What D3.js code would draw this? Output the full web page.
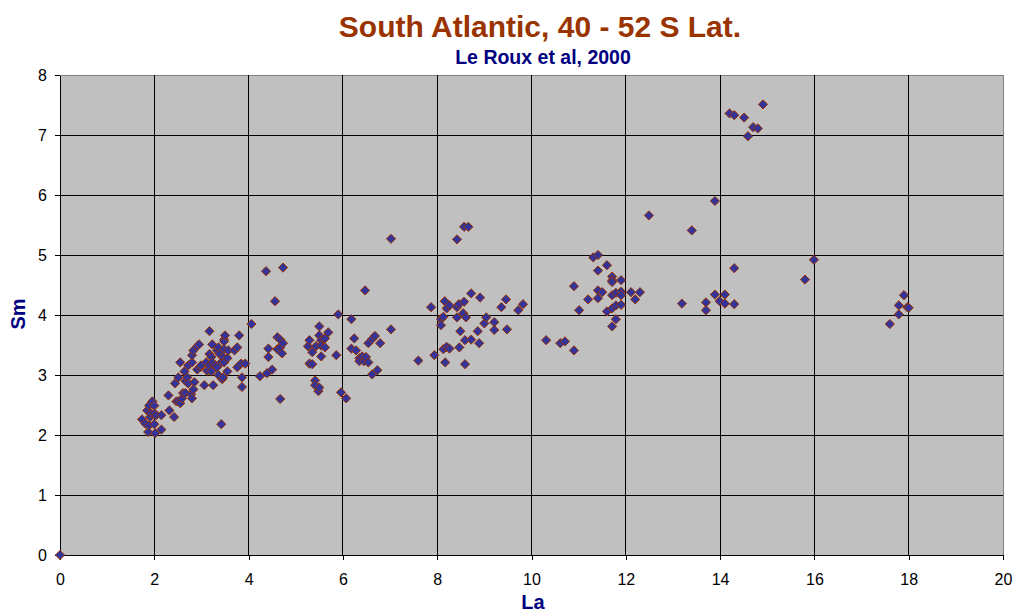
<!DOCTYPE html>
<html>
<head>
<meta charset="utf-8">
<script src="https://cdn.jsdelivr.net/npm/d3@7"></script>
<style>
  body { margin: 0; background: #fff; }
  text { font-family: "Liberation Sans", Arial, sans-serif; }
</style>
</head>
<body>
<script>

// La, Sm samples
var samples = [
    [0, 0],
    [1.74,2.26],[1.81,2.19],[1.85,2.41],[1.87,2.05],[1.89,2.49],[1.89,2.16],[1.91,2.30],[1.93,2.36],
    [1.96,2.56],[2.00,2.49],[2.00,2.36],[2.00,2.18],[2.02,2.03],[2.04,2.33],[2.15,2.09],[2.15,2.33],
    [2.30,2.66],[2.32,2.41],[2.42,2.30],[2.44,2.86],[2.47,2.56],[2.51,2.96],[2.51,2.56],[2.55,2.53],
    [2.55,3.21],[2.59,2.61],[2.61,2.70],[2.64,3.06],[2.66,2.70],[2.66,2.90],[2.70,2.96],[2.72,2.86],
    [2.72,3.16],[2.78,2.68],[2.80,2.61],[2.80,3.21],[2.80,3.33],[2.83,2.76],[2.83,3.41],[2.85,2.88],
    [2.91,3.09],[2.91,3.48],[2.95,3.51],[2.97,3.13],[2.99,3.16],
    [3.06,2.83],[3.10,3.21],[3.12,3.07],[3.17,3.16],[3.17,3.35],[3.17,3.73],[3.21,3.06],[3.21,3.30],
    [3.23,3.21],[3.23,3.51],[3.25,2.83],[3.29,3.16],[3.33,3.13],[3.33,3.41],[3.36,3.46],[3.36,3.00],
    [3.38,3.35],[3.42,3.21],[3.42,2.18],[3.44,2.93],[3.46,2.96],[3.46,3.30],[3.48,3.21],[3.48,3.59],
    [3.48,3.56],[3.48,3.43],[3.50,3.66],[3.55,3.06],[3.55,3.28],[3.57,3.41],[3.70,3.41],[3.76,3.46],
    [3.76,3.13],[3.80,3.66],[3.84,3.19],[3.86,2.96],[3.86,2.80],[3.93,3.19],
    [4.06,3.85],[4.24,2.98],[4.37,4.73],[4.39,3.03],[4.42,3.44],[4.42,3.30],[4.50,3.09],[4.56,4.23],
    [4.61,3.63],[4.61,3.43],[4.67,3.59],[4.67,3.46],[4.67,2.60],[4.71,3.36],[4.73,3.53],[4.73,4.79],
    [5.26,3.48],[5.29,3.58],[5.29,3.19],[5.35,3.38],[5.35,3.18],[5.41,2.91],[5.41,2.83],[5.43,3.48],
    [5.48,2.73],[5.50,3.81],[5.50,3.66],[5.50,2.79],[5.54,3.58],[5.54,3.49],[5.54,3.31],[5.62,3.61],
    [5.62,3.46],[5.69,3.71],[5.86,3.33],[5.90,4.01],[5.96,2.71],[6.07,2.61],[6.18,3.93],[6.18,3.44],
    [6.24,3.61],[6.28,3.41],[6.35,3.28],[6.35,3.23],[6.41,3.31],[6.45,3.23],[6.47,4.41],[6.49,3.30],
    [6.54,3.53],[6.54,3.21],[6.62,3.60],[6.62,3.01],[6.68,3.65],[6.73,3.08],[6.79,3.53],[7.02,3.76],
    [7.02,5.27],
    [7.60,3.24],[7.87,4.13],[7.94,3.33],[8.08,3.93],[8.08,3.83],[8.13,3.97],[8.13,3.43],[8.16,4.23],
    [8.17,3.21],[8.20,4.11],[8.20,3.47],[8.26,4.16],[8.26,3.44],[8.42,5.26],[8.42,4.13],[8.42,3.96],
    [8.46,4.18],[8.47,3.46],[8.49,3.73],[8.55,4.03],[8.57,5.47],[8.57,4.22],[8.59,3.58],[8.59,3.18],
    [8.61,3.96],[8.66,5.47],[8.72,4.36],[8.72,3.59],[8.86,3.73],[8.89,3.53],[8.91,4.29],[9.00,3.86],
    [9.04,3.96],[9.21,3.88],[9.21,3.75],[9.36,4.13],[9.46,4.26],[9.48,3.76],[9.72,4.08],[9.82,4.18],
    [10.31,3.58],[10.61,3.53],[10.71,3.56],[10.90,4.48],[10.90,3.41],[11.01,4.08],[11.20,4.26],
    [11.31,4.96],[11.41,5.00],[11.41,4.74],[11.41,4.41],[11.41,4.28],[11.50,4.38],[11.60,4.83],
    [11.60,4.06],[11.71,4.64],[11.71,4.58],[11.71,4.55],[11.71,4.33],[11.71,4.11],[11.71,3.81],
    [11.79,4.37],[11.79,4.16],[11.79,3.93],[11.90,4.58],[11.90,4.39],[11.90,4.33],[11.90,4.17],
    [12.11,4.38],[12.20,4.26],[12.30,4.38],[12.49,5.66],
    [13.19,4.19],[13.40,5.41],[13.70,4.21],[13.70,4.08],[13.89,5.90],[13.89,4.34],[13.99,4.23],
    [14.10,4.34],[14.10,4.19],[14.20,7.36],[14.30,7.33],[14.30,4.78],[14.30,4.18],[14.51,7.29],
    [14.59,6.98],[14.70,7.13],[14.80,7.11],[14.91,7.51],[15.80,4.59],[15.99,4.92],
    [17.60,3.85],[17.79,4.16],[17.79,4.01],[17.90,4.33],[17.97,4.13],[18.00,4.12]
];

var xTicks = [0, 2, 4, 6, 8, 10, 12, 14, 16, 18, 20];
var yTicks = [0, 1, 2, 3, 4, 5, 6, 7, 8];

var titleText = 'South Atlantic, 40 - 52 S Lat.';
var subtitleText = 'Le Roux et al, 2000';

var svg = d3.select('body')
    .append('svg')
    .attr('width', 1020)
    .attr('height', 616)

var x = d3.scaleLinear().domain([0, 20]).range([60, 1003]);
var y = d3.scaleLinear().domain([0, 8]).range([555, 75]);

// plot area
svg.append('rect')
    .attr('x', x(0))
    .attr('y', y(8))
    .attr('width', x(20) - x(0))
    .attr('height', y(0) - y(8))
    .attr('fill', '#c0c0c0')
    .attr('stroke', '#808080')
    .attr('shape-rendering', 'crispEdges')

// grid
svg.selectAll('.vgrid')
    .data(xTicks.slice(1, -1))
    .enter()
    .append('line')
    .attr('x1', function (d) { return x(d); })
    .attr('x2', function (d) { return x(d); })
    .attr('y1', y(0))
    .attr('y2', y(8))
    .attr('stroke', '#000')
    .attr('shape-rendering', 'crispEdges')

svg.selectAll('.hgrid')
    .data(yTicks.slice(1, -1))
    .enter()
    .append('line')
    .attr('x1', x(0))
    .attr('x2', x(20))
    .attr('y1', function (d) { return y(d); })
    .attr('y2', function (d) { return y(d); })
    .attr('stroke', '#000')
    .attr('shape-rendering', 'crispEdges')

// axes
var axisB = d3.axisBottom(x).tickValues(xTicks).tickSize(5).tickSizeOuter(0).tickPadding(6);
var axisL = d3.axisLeft(y).tickValues(yTicks).tickSize(5).tickSizeOuter(0).tickPadding(8);

var gx = svg.append('g')
    .attr('transform', 'translate(0,' + y(0) + ')')
    .call(axisB)
var gy = svg.append('g')
    .attr('transform', 'translate(' + x(0) + ',0)')
    .call(axisL)

svg.selectAll('.domain, .tick line')
    .attr('stroke', '#000')
    .attr('shape-rendering', 'crispEdges')
svg.selectAll('.tick text')
    .attr('font-family', '"Liberation Sans", Arial, sans-serif')
    .attr('font-size', 16)
    .attr('fill', '#000')
gx.selectAll('.tick text').attr('y', 19)

// points
svg.append('g')
    .selectAll('path')
    .data(samples)
    .enter()
    .append('path')
    .attr('d', 'M0,-4.6L4.6,0L0,4.6L-4.6,0Z')
    .attr('transform', function (d) {
        return 'translate(' + x(d[0]) + ',' + y(d[1]) + ')';
    })
    .attr('fill', '#333399')
    .attr('stroke', '#993300')
    .attr('stroke-width', 1)

// titles
svg.append('text')
    .text(titleText)
    .attr('x', 540)
    .attr('y', 37)
    .attr('text-anchor', 'middle')
    .attr('font-size', 30)
    .attr('font-weight', 'bold')
    .attr('fill', '#993300')

svg.append('text')
    .text(subtitleText)
    .attr('x', 543)
    .attr('y', 64)
    .attr('text-anchor', 'middle')
    .attr('font-size', 19.5)
    .attr('font-weight', 'bold')
    .attr('fill', '#000080')

svg.append('text')
    .text('La')
    .attr('x', 533)
    .attr('y', 609)
    .attr('text-anchor', 'middle')
    .attr('font-size', 20)
    .attr('font-weight', 'bold')
    .attr('fill', '#000080')

svg.append('text')
    .text('Sm')
    .attr('transform', 'translate(25,314) rotate(-90)')
    .attr('text-anchor', 'middle')
    .attr('font-size', 20)
    .attr('font-weight', 'bold')
    .attr('fill', '#000080')

</script>
</body>
</html>
